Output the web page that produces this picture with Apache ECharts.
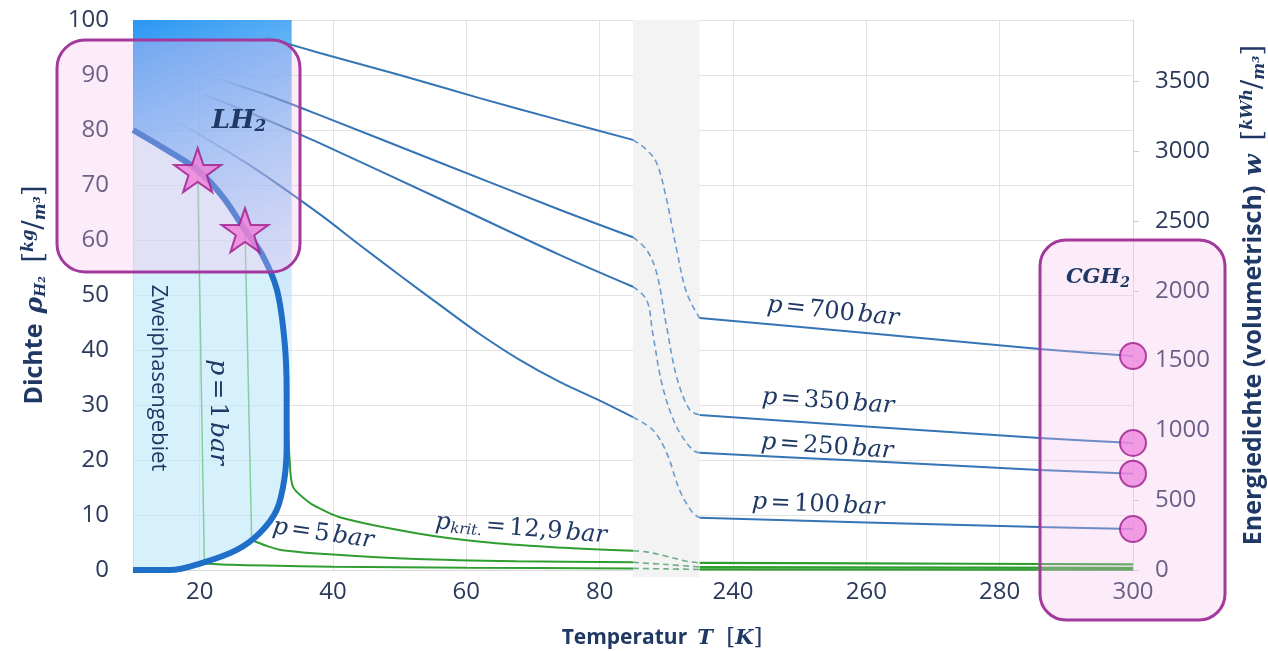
<!DOCTYPE html>
<html><head><meta charset="utf-8">
<script src="https://cdn.jsdelivr.net/npm/echarts@6/dist/echarts.min.js"></script>
<style>html,body{margin:0;padding:0;background:#fff}#c{width:1268px;height:651px}</style>
</head><body><div id="c"></div>
<script>
// ---------- axis layout data ----------
// Temperature axis is broken: 10..85 K shown directly, 235..300 K shifted by 140; 85..95 is the break band
const BREAK_LO = 85, BREAK_HI = 235, BREAK_W = 10;
const xTickValues = [20, 40, 60, 80, 240, 260, 280, 300];
const wTickValues = [0, 500, 1000, 1500, 2000, 2500, 3000, 3500];
const W_PER_RHO = 39.4; // kWh/m3 per kg/m3

// ---------- two-phase dome (T [K], rho [kg/m3]) ----------
const domeT   = [10, 15, 19.7, 23.5, 26.8, 29.4, 31.6, 32.75, 33.05, 33.05, 32.75, 31.55, 29.0, 25.5, 20.4, 15.5, 10];
const domeRho = [80, 76.4, 72.7, 67.8, 61.8, 57.3, 50.9, 41.3, 32.2, 23.1, 16.9, 10.9, 6.7, 3.6, 1.3, 0, 0];
const domeLiquidCount = 9; // first 9 points = saturated liquid branch up to critical point

// ---------- isobars, high pressure (blue) ----------
const T700a = [29.8, 38, 50, 62, 74, 85];
const R700a = [96.9, 94.0, 90.0, 85.8, 81.8, 78.2];
const X700b = [85, 87.05, 88.55, 90.05, 91.55, 93.05, 95];
const R700b = [78.2, 76.4, 74.0, 67.3, 58.2, 50.4, 45.8];
const T700c = [235, 260, 286, 300];
const R700c = [45.8, 43.1, 40.2, 38.9];

const T350a = [22.7, 30, 38, 56, 74, 85];
const R350a = [89.3, 86.4, 82.7, 74.1, 65.5, 60.5];
const X350b = [85, 87.05, 88.55, 90.05, 91.55, 93.5, 95];
const R350b = [60.5, 58.2, 54.0, 44.2, 35.1, 29.1, 28.2];
const T350c = [235, 260, 286, 300];
const R350c = [28.2, 26.1, 24.0, 23.1];

const T250a = [20.5, 29, 38, 56, 74, 85];
const R250a = [86.5, 82.4, 77.6, 67.5, 57.3, 51.5];
const X250b = [85, 87.05, 87.95, 89.45, 91.55, 93.95, 95];
const R250b = [51.5, 49.1, 43.1, 33.3, 26.0, 21.8, 21.3];
const T250c = [235, 260, 286, 300];
const R250c = [21.3, 19.8, 18.2, 17.5];

const T100a = [16.7, 27.5, 38, 44, 50, 56, 62, 68, 74, 80, 85];
const R100a = [81.5, 73.6, 64.7, 59.1, 53.6, 48.2, 42.9, 38.2, 34.2, 30.8, 27.8];
const X100b = [85, 87.95, 90.05, 92.0, 93.95, 95];
const R100b = [27.8, 25.5, 21.3, 14.5, 10.4, 9.5];
const T100c = [235, 260, 286, 300];
const R100c = [9.5, 8.65, 7.8, 7.45];

// ---------- isobars, low pressure (green) ----------
const TKa = [33.2, 33.5, 34.0, 36.0, 37.5, 41.0, 52.5, 62.5, 72.5, 85];
const RKa = [27.5, 20.0, 15.1, 12.7, 11.5, 9.6, 6.7, 5.1, 4.2, 3.5];
const XKb = [85, 87, 90, 93, 95];
const RKb = [3.5, 3.3, 2.5, 1.6, 1.3];
const TKc = [235, 260, 300];
const RKc = [1.3, 1.2, 1.04];

const T5a = [27.8, 30, 32.4, 40, 52.5, 67.5, 85];
const R5a = [5.45, 4.4, 3.6, 2.8, 2.0, 1.6, 1.4];
const X5b = [85, 90, 95];
const R5b = [1.4, 1.0, 0.55];
const T5c = [235, 300];
const R5c = [0.52, 0.4];

const T1a = [20.7, 25, 30, 40, 60, 85];
const R1a = [1.2, 0.95, 0.8, 0.6, 0.4, 0.29];
const X1b = [85, 90, 95];
const R1b = [0.29, 0.2, 0.1];
const T1c = [235, 300];
const R1c = [0.1, 0.08];

// two-phase isotherms (thin green)
const iso1T = [19.7, 20.7], iso1R = [72.7, 1.2];
const iso2T = [26.8, 27.8], iso2R = [61.8, 5.45];

// marked states
const starT = [19.7, 26.8], starR = [72.7, 61.8];
const cghRho = [R700c[R700c.length-1], R350c[R350c.length-1], R250c[R250c.length-1], R100c[R100c.length-1]];
const cghT = [300, 300, 300, 300];

// ---------- helpers ----------
function ax(T){ return T >= BREAK_HI ? T - (BREAK_HI - BREAK_LO - BREAK_W) : T; }
function axInv(v){ return v > BREAK_LO + BREAK_W ? v + (BREAK_HI - BREAK_LO - BREAK_W) : v; }
function pts(xs, ys){ return xs.map((t,i)=>[ax(t), ys[i]]); }

const NAVY = '#1f3864', LBL = '#2b3a5a', BLUE = '#3574b5', GREEN = '#2f9e30';
const chart = echarts.init(document.getElementById('c'));

function fade(frac){
  return new echarts.graphic.LinearGradient(0,0,1,0,[
    {offset:0,color:'rgba(53,116,181,0.05)'},{offset:frac,color:BLUE},{offset:1,color:BLUE}]);
}
function ln(data, color, width, extra){
  return Object.assign({type:'line', data:data, showSymbol:false, symbol:'none', silent:true, smooth:0.35,
    lineStyle:{color:color, width:width}, z:3, animation:false}, extra||{});
}
function dashed(data, color){
  return ln(data, color, 1.6, {lineStyle:{color:color, width:1.6, type:[6,4]}, z:3});
}

const series = [];
// break band
series.push({type:'custom', z:1, silent:true, clip:false, animation:false, data:[[BREAK_LO, 0]],
  renderItem:(p, api)=>{
    const a = api.coord([BREAK_LO, 100]), b = api.coord([BREAK_LO+BREAK_W, -1.3]);
    return {type:'rect', shape:{x:a[0], y:a[1], width:b[0]-a[0], height:b[1]-a[1]}, style:{fill:'#f3f3f3'}};
  }});
// two-phase fill
series.push({type:'custom', z:1, silent:true, clip:false, animation:false, data:[[10,0]],
  renderItem:(p, api)=>{
    const P = domeT.map((t,i)=>api.coord([ax(t), domeRho[i]]));
    return {type:'polygon', shape:{points:P}, style:{fill:'rgba(186,230,250,0.6)'}};
  }});
// liquid region gradient
series.push({type:'custom', z:1, silent:true, clip:false, animation:false, data:[[10,100]],
  renderItem:(p, api)=>{
    const P = [api.coord([10,100]), api.coord([33.8,100]), api.coord([33.8,30])];
    for (let i = domeLiquidCount-1; i >= 0; i--) P.push(api.coord([domeT[i], domeRho[i]]));
    return {type:'polygon', shape:{points:P}, style:{fill:new echarts.graphic.LinearGradient(0,0,1,1,[
      {offset:0,color:'rgba(30,145,242,0.95)'},{offset:0.45,color:'rgba(110,185,245,0.65)'},{offset:1,color:'rgba(215,236,252,0.35)'}])}};
  }});

// green isobars
[[TKa,RKa,XKb,RKb,TKc,RKc],[T5a,R5a,X5b,R5b,T5c,R5c],[T1a,R1a,X1b,R1b,T1c,R1c]].forEach(g=>{
  series.push(ln(pts(g[0],g[1]), GREEN, 2, {z:2, smooth:0.3}));
  series.push(dashed(pts(g[2],g[3]), '#6aaf86'));
  series.push(ln(pts(g[4],g[5]), GREEN, 2.2, {z:2}));
});
// thin two-phase isotherms
series.push(ln(pts(iso1T, iso1R), '#86cf9c', 1.5, {smooth:false, z:2}));
series.push(ln(pts(iso2T, iso2R), '#86cf9c', 1.5, {smooth:false, z:2}));

// blue isobars
[[T700a,R700a,X700b,R700b,T700c,R700c,0.08],[T350a,R350a,X350b,R350b,T350c,R350c,0.17],
 [T250a,R250a,X250b,R250b,T250c,R250c,0.2],[T100a,R100a,X100b,R100b,T100c,R100c,0.25]].forEach(g=>{
  series.push(ln(pts(g[0],g[1]), fade(g[6]), 2, {smooth:0.3}));
  series.push(dashed(pts(g[2],g[3]), '#6b9bd0'));
  series.push(ln(pts(g[4],g[5]), BLUE, 2, {smooth:0.2}));
});

// dome line
series.push(ln(pts(domeT, domeRho), '#1f6fc8', 6, {z:4, smooth:0.35}));

// stars and circles
const STAR = 'path://M50,2 L61.8,36.4 L98,36.4 L68.8,57.6 L79.8,92 L50,71 L20.2,92 L31.2,57.6 L2,36.4 L38.2,36.4 Z';
series.push({type:'scatter', z:10, silent:true, clip:false, animation:false, data:pts(starT, starR),
  symbol:STAR, symbolSize:47, symbolKeepAspect:true,
  itemStyle:{color:'#f07ed8', borderColor:'#a01a8c', borderWidth:2}});
series.push({type:'scatter', z:10, silent:true, clip:false, animation:false, data:pts(cghT, cghRho),
  symbol:'circle', symbolSize:26, itemStyle:{color:'#ef86dd', borderColor:'#9c1f8c', borderWidth:2}});

const xAxisTicks = xTickValues.map(ax);

const serif = '"DejaVu Serif", serif';
const sans = '"Open Sans", "Noto Sans", sans-serif';
function nameRich(s){
  return {
    b:{fontFamily:sans, fontWeight:'bold', fontSize:s, color:NAVY},
    m:{fontFamily:serif, fontWeight:'bold', fontStyle:'italic', fontSize:s, color:NAVY},
    sub:{fontFamily:serif, fontWeight:'bold', fontStyle:'italic', fontSize:Math.round(s*0.6), color:NAVY, verticalAlign:'bottom', padding:[Math.round(s*0.5),0,0,0]},
    br:{fontFamily:serif, fontSize:Math.round(s*1.1), color:NAVY},
    sup:{fontFamily:serif, fontStyle:'italic', fontWeight:'bold', fontSize:Math.round(s*0.62), color:NAVY, verticalAlign:'top', padding:[0,0,Math.round(s*0.4),0]},
    sl:{fontFamily:serif, fontSize:Math.round(s*1.1), color:NAVY},
    lo:{fontFamily:serif, fontStyle:'italic', fontWeight:'bold', fontSize:Math.round(s*0.62), color:NAVY, verticalAlign:'bottom', padding:[Math.round(s*0.4),0,0,0]}
  };
}

chart.setOption({
  animation:false,
  grid:{left:133, right:135, top:20, bottom:81, containLabel:false, outerBoundsMode:'none'},
  xAxis:{type:'value', min:10, max:160,
    axisLine:{show:true, lineStyle:{color:'#d9d9d9'}},
    axisTick:{show:false, customValues:xAxisTicks},
    axisLabel:{customValues:xAxisTicks, formatter:v=>String(axInv(v)), fontSize:24, color:LBL, fontFamily:sans, margin:10},
    splitLine:{show:true, lineStyle:{color:'#e3e3e3'}},
    name:'{b|Temperatur}   {m|T}    {br|[}{m|K}{br|]}', nameLocation:'middle', nameGap:57,
    nameTextStyle:{rich:nameRich(21), padding:[0,0,0,58]}},
  yAxis:[{type:'value', min:0, max:100, interval:10, position:'left',
    axisLine:{show:true, lineStyle:{color:'#d9d9d9'}}, axisTick:{show:false},
    axisLabel:{fontSize:24, color:LBL, fontFamily:sans, margin:24},
    splitLine:{show:true, lineStyle:{color:'#e3e3e3'}},
    name:'{b|Dichte}   {m|ρ}{sub|H₂}    {br|[}{sup|kg}{sl|/}{lo|m³}{br|]}', nameLocation:'middle', nameRotate:90, nameGap:84,
    nameTextStyle:{rich:nameRich(25)}},
   {type:'value', min:0, max:100*W_PER_RHO, position:'right',
    axisLine:{show:true, lineStyle:{color:'#d9d9d9'}},
    axisTick:{show:true, length:6, lineStyle:{color:'#cfcfcf'}, customValues:wTickValues},
    axisLabel:{customValues:wTickValues, formatter:v=>String(v), fontSize:24, color:LBL, fontFamily:sans, margin:22},
    splitLine:{show:false},
    name:'{b|Energiedichte (volumetrisch)}   {m|w}    {br|[}{sup|kWh}{sl|/}{lo|m³}{br|]}', nameLocation:'middle', nameRotate:90, nameGap:107,
    nameTextStyle:{rich:nameRich(25)}}],
  series:series
});

// ---------- annotations ----------
function ptxt(x, y, rot, text, size){
  const s = size || 24;
  const it = {fontFamily:serif, fontStyle:'italic', fontSize:s, fill:NAVY};
  const up = {fontFamily:serif, fontSize:s, fill:NAVY};
  return {type:'text', x:x, y:y, rotation:rot, z:20, silent:true,
    style:{text:text, align:'center', verticalAlign:'middle', fill:NAVY,
      rich:{i:it, u:up,
            k:{fontFamily:serif, fontStyle:'italic', fill:NAVY, fontSize:Math.round(s*0.62), verticalAlign:'bottom', padding:[Math.round(s*0.45),0,0,0]}}}};
}
const deg = Math.PI/180;
chart.setOption({graphic:[
  {type:'rect', z:5, silent:true, shape:{x:57, y:40, width:243, height:232, r:28},
    style:{fill:'rgba(245,190,235,0.3)', stroke:'#a3399d', lineWidth:3}},
  {type:'rect', z:5, silent:true, shape:{x:1040, y:240, width:185, height:380, r:26},
    style:{fill:'rgba(245,190,235,0.3)', stroke:'#a3399d', lineWidth:3}},
  {type:'text', x:239, y:121, z:20, silent:true, style:{text:'{a|LH}{s|2}', align:'center', verticalAlign:'middle',
    rich:{a:{fontFamily:serif, fontWeight:'bold', fontStyle:'italic', fontSize:26, fill:NAVY},
          s:{fontFamily:serif, fontWeight:'bold', fontStyle:'italic', fontSize:17, fill:NAVY, verticalAlign:'bottom', padding:[12,0,0,0]}}}},
  {type:'text', x:1098, y:278, z:20, silent:true, style:{text:'{a|CGH}{s|2}', align:'center', verticalAlign:'middle',
    rich:{a:{fontFamily:serif, fontWeight:'bold', fontStyle:'italic', fontSize:21, fill:NAVY},
          s:{fontFamily:serif, fontWeight:'bold', fontStyle:'italic', fontSize:14, fill:NAVY, verticalAlign:'bottom', padding:[10,0,0,0]}}}},
  {type:'text', x:158, y:378, rotation:-90*deg, z:20, silent:true,
    style:{text:'Zweiphasengebiet', align:'center', verticalAlign:'middle', fontFamily:sans, fontSize:22, fill:NAVY}},
  ptxt(217, 412, -90*deg, '{i|p} {u|=} {u|1} {i|bar}', 25),
  ptxt(323, 534, -8*deg, '{i|p} {u|=} {u|5} {i|bar}', 24),
  ptxt(521, 529, -4.7*deg, '{i|p}{k|krit.} {u|=} {u|12,9} {i|bar}', 24),
  ptxt(833, 312, -6*deg, '{i|p} {u|=} {u|700} {i|bar}', 24),
  ptxt(828, 402, -4*deg, '{i|p} {u|=} {u|350} {i|bar}', 24),
  ptxt(827, 447, -4*deg, '{i|p} {u|=} {u|250} {i|bar}', 24),
  ptxt(818, 505, -2.5*deg, '{i|p} {u|=} {u|100} {i|bar}', 24)
]});
</script></body></html>
